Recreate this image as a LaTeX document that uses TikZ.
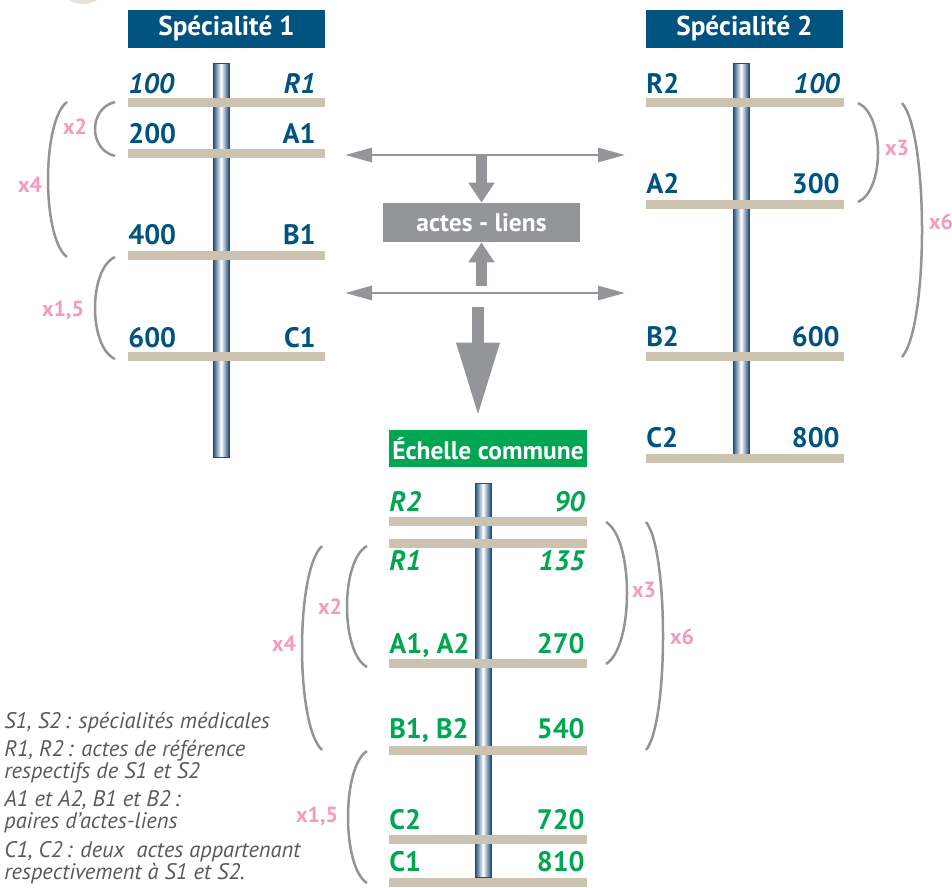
\documentclass[tikz,border=0pt]{standalone}
\usepackage{fontspec}
\setmainfont{PT Sans}
\usetikzlibrary{arrows.meta}
\definecolor{bleuspe}{HTML}{00527F}
\definecolor{vertcommun}{HTML}{00A651}
\definecolor{beige}{HTML}{CCC2B0}
\definecolor{grisfleche}{HTML}{939598}
\definecolor{grisaccolade}{HTML}{949497}
\definecolor{rosefacteur}{HTML}{F49AC1}
\definecolor{grislegende}{HTML}{58595B}
\definecolor{bleubarre}{HTML}{1E4D7B}
\definecolor{beigecercle}{HTML}{E7E3DB}

\begin{document}
\begin{tikzpicture}[x=0.02cm, y=-0.02cm,
    titre/.style={fill=#1, text=white, font=\bfseries\fontsize{14.5}{17}\selectfont, minimum width=3.94cm, minimum height=0.76cm, inner sep=0pt},
    barre/.style={draw=bleubarre, line width=0.3pt, left color=bleubarre, right color=bleubarre, middle color=white},
    echelon/.style={fill=beige},
    valeur/.style={font=\bfseries\fontsize{16}{19}\selectfont, inner sep=0pt, text=#1},
    facteur/.style={font=\bfseries\fontsize{12.5}{14}\selectfont, inner sep=0pt, text=rosefacteur},
    accolade/.style={draw=grisaccolade, line width=0.05cm},
    doublefleche/.style={draw=grisfleche, line width=0.055cm, {Triangle[length=0.54cm,width=0.28cm]}-{Triangle[length=0.54cm,width=0.28cm]}},
    grossefleche/.style={draw=grisfleche, line width=0.22cm, -{Triangle[length=0.4cm,width=0.5cm]}}]
    \useasboundingbox (0,0) rectangle (952,887);
    \fill[beigecercle] (83,-24) circle[radius=28];

    % Specialite 1
    \node[titre=bleuspe, font=\bfseries\fontsize{15.5}{18}\selectfont] (spe1) at (226.5,28.5) {Spécialité 1};
    \shade[barre] (213,63) rectangle (229,457);
    \foreach \y in {98,149,251,352} {
        \fill[echelon] (128,\y) rectangle (325,\y+9);
    }
    \foreach \y/\g/\d [count=\i] in {93/{\itshape 100}/{\itshape R1}, 143/200/A1, 244/400/B1, 347/600/C1} {
        \node[valeur=bleuspe, anchor=base west] (ga\i) at (128,\y) {\g};
        \node[valeur=bleuspe, anchor=base east] (da\i) at (316,\y) {\d};
    }

    % Specialite 2
    \node[titre=bleuspe, font=\bfseries\fontsize{15.5}{18}\selectfont] (spe2) at (744.5,28.5) {Spécialité 2};
    \shade[barre] (733,63) rectangle (749,455);
    \foreach \y in {98,200,352,454} {
        \fill[echelon] (646,\y) rectangle (844,\y+9);
    }
    \foreach \y/\g/\d [count=\i] in {93/R2/{\itshape 100}, 193/A2/300, 346/B2/600, 447/C2/800} {
        \node[valeur=bleuspe, anchor=base west] (gb\i) at (646,\y) {\g};
        \node[valeur=bleuspe, anchor=base east] (db\i) at (840,\y) {\d};
    }

    % actes - liens
    \node[titre=grisfleche, minimum height=0.78cm] (liens) at (481.5,222.5) {actes - liens};
    \coordinate (hautG) at (345,155);
    \coordinate (hautD) at (625,155);
    \coordinate (basG) at (345,293);
    \coordinate (basD) at (625,293);
    \coordinate (basM) at (481.5,286);
    \coordinate (grosDebut) at (478,307);
    \draw[doublefleche] (hautG) -- (hautD);
    \draw[doublefleche] (basG) -- (basD);
    \draw[grossefleche] (liens.north |- hautG) -- (liens.north);
    \draw[grossefleche] (basM) -- (liens.south);

    % Echelle commune
    \node[titre=vertcommun, minimum width=3.96cm, minimum height=0.74cm] (commune) at (488,448.5) {Échelle commune};
    \draw[grossefleche, line width=0.25cm, -{Triangle[length=1.48cm,width=0.8cm]}, shorten >=0.26cm] (grosDebut) -- (grosDebut |- commune.north);
    \shade[barre] (475,483) rectangle (491,877);
    \foreach \y in {517,539,659,746,835,878} {
        \fill[echelon] (389,\y) rectangle (587,\y+9);
    }
    \foreach \y/\g/\d [count=\i] in {511/{\itshape R2}/{\itshape 90}, 570/{\itshape R1}/{\itshape 135}, 653/{A1, A2}/270, 738/{B1, B2}/540, 829/C2/720, 871/C1/810} {
        \node[valeur=vertcommun, anchor=base west] (gc\i) at (389,\y) {\g};
        \node[valeur=vertcommun, anchor=base east] (dc\i) at (585,\y) {\d};
    }

    % accolades
    \foreach \xe/\ya/\yb/\xm in {115/102/156/95, 67/102/257/48, 115/257/359/95, 858/103/202/878, 902/103/357/922,
        367/546/667/347, 322/546/750/302, 367/751/883/348, 606/522/664/627, 646/522/750/663} {
        \draw[accolade] (\xe,\ya) .. controls ({\xe+(\xm-\xe)*4/3},{\ya+0.12*(\yb-\ya)}) and ({\xe+(\xm-\xe)*4/3},{\yb-0.12*(\yb-\ya)}) .. (\xe,\yb);
    }
    \foreach \n/\x/\y/\t in {fa/75/127/x2, fb/30/185/x4, fc/63/310/{x1,5}, fd/897/148/x3, fe/941/222/x6,
        ff/330/607/x2, fg/284/644/x4, fh/317/816/{x1,5}, fi/644/590/x3, fj/682/637/x6} {
        \node[facteur] (\n) at (\x,\y) {\t};
    }

    % legende
    \node[anchor=base west, align=left, inner sep=0pt, text=grislegende, font=\itshape\fontsize{12.8}{12.5}\selectfont] (legende) at (4,879)
        {S1, S2\,: spécialités médicales\\[3.5pt]
         R1, R2\,: actes de référence\\
         respectifs de S1 et S2\\[3.5pt]
         A1 et A2, B1 et B2\,:\\
         paires d’actes-liens\\[3.5pt]
         C1, C2\,: deux \ actes appartenant\\
         respectivement à S1 et S2.};
\end{tikzpicture}
\end{document}
